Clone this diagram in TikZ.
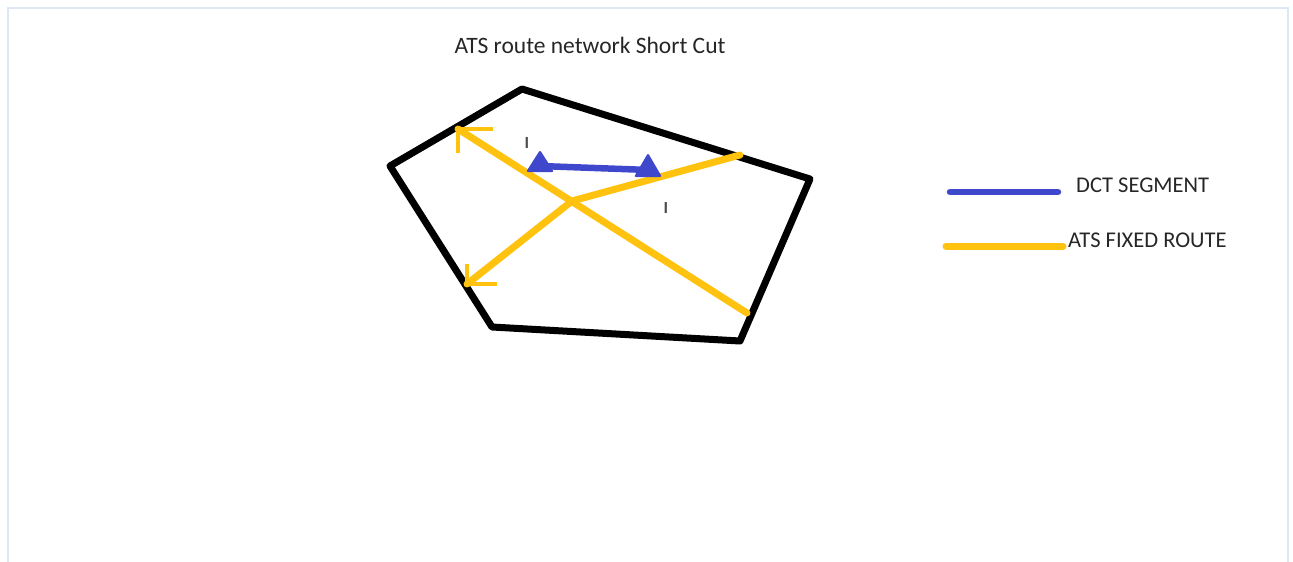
\documentclass[tikz,border=0pt]{standalone}
\usepackage{fontspec}
\setmainfont{Carlito}
\definecolor{frame}{HTML}{DDE8F5}
\definecolor{ats}{HTML}{FFC20E}
\definecolor{dct}{HTML}{3F48CC}
\begin{document}
\begin{tikzpicture}[x=1pt,y=-1pt,
  border/.style={line width=7pt,black,line join=round,line cap=round},
  route/.style={line width=7pt,ats,line cap=round},
  tipline/.style={line width=3.5pt,ats},
  seg/.style={line width=6.5pt,dct,line cap=round},
  lbl/.style={font=\fontsize{22.5}{26}\selectfont,text=black!85,anchor=west,inner sep=0pt},
  tick/.style={font=\fontsize{17}{18}\selectfont\bfseries,text=black!70,inner sep=0pt}]
\useasboundingbox (0,0) rectangle (1293,562);
\draw[frame,line width=2pt] (8,562) -- (8,8) -- (1288,8) -- (1288,562);
\node[font=\fontsize{23.5}{26}\selectfont,text=black!85,inner sep=0pt] (title) at (590,45) {ATS route network Short Cut};
% pentagon
\coordinate (p1) at (522,89);
\coordinate (p2) at (810,179);
\coordinate (p3) at (740,341);
\coordinate (p4) at (492,327);
\coordinate (p5) at (390,166);
\draw[border] (p1) -- (p2) -- (p3) -- (p4) -- (p5) -- cycle;
% routes
\coordinate (a1) at (458,129);
\coordinate (a2) at (747,313);
\coordinate (b1) at (740,155);
\coordinate (x) at (572,201);
\coordinate (b2) at (467,284);
\draw[route] (a2) -- (a1);
\draw[route] (b1) -- (x) -- (b2);
\draw[tipline] (a1) -- ++(35,0) (a1) -- ++(0,24);
\draw[tipline] (b2) -- ++(30,0) (b2) -- ++(0,-20);
% DCT segment
\coordinate (d1) at (540,166);
\coordinate (d2) at (649,170);
\draw[seg] (d1) -- (d2);
\fill[dct,rounded corners=2pt] (526,172) -- (540,150) -- (554,172) -- cycle;
\fill[dct,rounded corners=2pt] (634,177) -- (648,153) -- (662,177) -- cycle;
\node[tick] (t1) at (527,143) {I};
\node[tick] (t2) at (666,208) {I};
% legend
\coordinate (l1a) at (950,192);
\coordinate (l1b) at (1058,192);
\draw[seg] (l1a) -- (l1b);
\node[lbl] (dctlbl) at (1076,185) {DCT SEGMENT};
\coordinate (l2a) at (946,246);
\coordinate (l2b) at (1063,246);
\draw[route] (l2a) -- (l2b);
\node[lbl] (atslbl) at (1068,240) {ATS FIXED ROUTE};
\end{tikzpicture}
\end{document}
